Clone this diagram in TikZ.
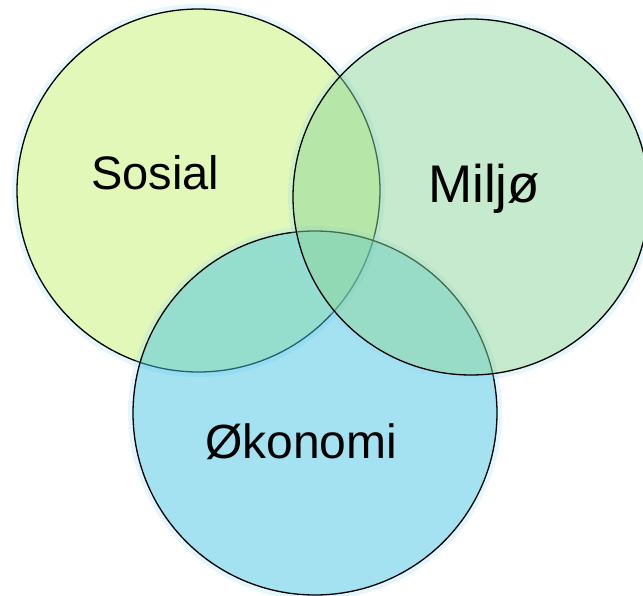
\documentclass[tikz,border=0pt]{standalone}
\usepackage{fontspec}
\setmainfont{Liberation Sans}
\definecolor{sosialfill}{RGB}{197,241,113}
\definecolor{miljofill}{RGB}{141,213,155}
\definecolor{okofill}{RGB}{73,197,229}
\definecolor{glowcol}{RGB}{150,220,245}
\tikzset{
  venn/.style={fill opacity=0.5, draw=black, line width=1.3pt},
  glow/.style={draw=glowcol, draw opacity=0.25, line width=6pt},
  lbl/.style={anchor=base west, inner sep=0pt, text=black}
}
\begin{document}
\begin{tikzpicture}[x=1pt,y=-1pt]
\useasboundingbox (0,0) rectangle (643,596);
\begin{scope}
\clip (0,0) rectangle (643,596);
% Sosial
\draw[glow] (198.5,190.5) circle[radius=183.5];
\path[venn, fill=sosialfill] (198.5,190.5) circle[radius=181.5];
% Okonomi
\draw[glow] (315,413) circle[radius=184];
\path[venn, fill=okofill] (315,413) circle[radius=182];
% Miljo
\draw[glow] (471,197) circle[radius=180];
\path[venn, fill=miljofill] (471,197) circle[radius=178];
\end{scope}
\node[lbl, font=\fontsize{47}{51}\selectfont] (sosial) at (91,190) {Sosial};
\node[lbl, font=\fontsize{53}{57}\selectfont] (miljo) at (428,203) {Miljø};
\node[lbl, font=\fontsize{48}{52}\selectfont] (oko) at (205,458) {Økonomi};
\end{tikzpicture}
\end{document}
